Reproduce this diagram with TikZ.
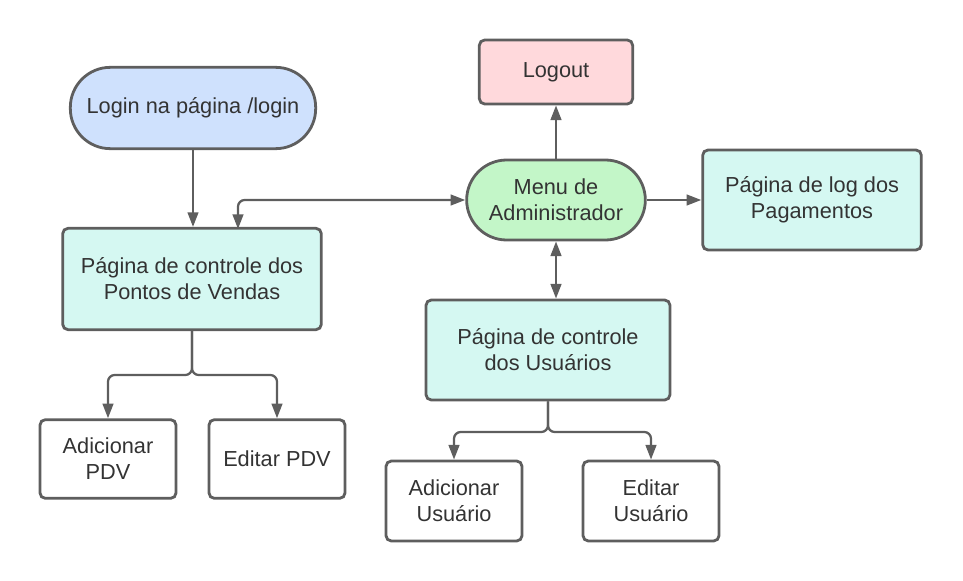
\documentclass[tikz,border=0pt]{standalone}
\usepackage{fontspec}
\setmainfont{Liberation Sans}
\usetikzlibrary{arrows.meta}
\definecolor{bluefill}{HTML}{CFE1FD}
\definecolor{pinkfill}{HTML}{FFD9DC}
\definecolor{greenfill}{HTML}{C3F6C8}
\definecolor{tealfill}{HTML}{D5F8F2}
\definecolor{edge}{HTML}{5E5E5E}

\begin{document}
\begin{tikzpicture}
  [x=0.75pt,y=-0.75pt,
   every node/.style={draw=edge,line width=2.1pt,align=center,text=black!80,
     font=\fontsize{16.3}{19.5}\selectfont,inner sep=0pt},
   box/.style={rounded corners=4pt,fill=tealfill},
   pill/.style={rounded corners=30pt},
   arr/.style={draw=edge,line width=1.7pt,rounded corners=5pt,
     -{Triangle[length=11pt,width=8pt]}},
   biarr/.style={arr,{Triangle[length=11pt,width=8pt]}-{Triangle[length=11pt,width=8pt]}}]
  \useasboundingbox (0,0) rectangle (963,581);
  \node[pill,fill=bluefill,minimum width=184pt,minimum height=61pt] (login) at (193,108) {Login na página /login};
  \node[box,fill=pinkfill,minimum width=115pt,minimum height=48pt] (logout) at (556,72) {Logout};
  \node[pill,fill=greenfill,minimum width=134pt,minimum height=60pt] (menu) at (556,200) {Menu de\\Administrador};
  \node[box,minimum width=164pt,minimum height=75pt] (log) at (812,200) {Página de log dos\\Pagamentos};
  \node[box,minimum width=194pt,minimum height=76pt] (pdv) at (192,279) {Página de controle dos\\Pontos de Vendas};
  \node[box,minimum width=183pt,minimum height=75pt] (usr) at (548,350) {Página de controle\\dos Usuários};
  \node[box,fill=white,minimum width=102pt,minimum height=59pt] (addpdv) at (108,459) {Adicionar\\PDV};
  \node[box,fill=white,minimum width=102pt,minimum height=59pt] (edpdv) at (277,459) {Editar PDV};
  \node[box,fill=white,minimum width=102pt,minimum height=60pt] (addusr) at (454,501) {Adicionar\\Usuário};
  \node[box,fill=white,minimum width=102pt,minimum height=60pt] (edusr) at (651,501) {Editar\\Usuário};

  \coordinate (pdvsplit) at (192,375);
  \coordinate (usrsplit) at (548,432);
  \coordinate (pdvin) at (238,229);

  \draw[arr] (login.south) -- (login.south |- pdv.north);
  \draw[biarr] (menu.west) -| (pdvin);
  \draw[arr] (menu) -- (logout);
  \draw[arr] (menu) -- (log);
  \draw[biarr] (menu.south) -- (menu.south |- usr.north);
  \foreach \to in {addpdv,edpdv}
    \draw[arr] (pdv.south) -- (pdvsplit) -| (\to.north);
  \foreach \to in {addusr,edusr}
    \draw[arr] (usr.south) -- (usrsplit) -| (\to.north);
\end{tikzpicture}
\end{document}
